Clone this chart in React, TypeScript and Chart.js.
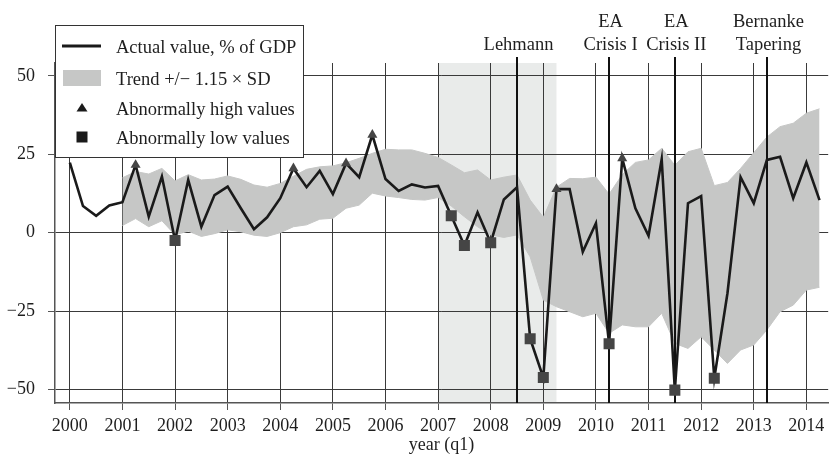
import React, { useEffect, useRef } from 'react';
import { Chart, registerables } from 'chart.js';

Chart.register(...registerables);

const FONT_FAMILY = '"Liberation Serif", "DejaVu Serif", serif';
const TEXT_COLOR = '#1e1e1e';
const GRID_COLOR = '#3a3a3a';
const BAND_COLOR = '#c6c7c6';
const SHADE_COLOR = '#e9ebea';
const MARKER_COLOR = '#454545';

// ---- data ----
const firstQuarter = '2000q1';
const actualValues = [
  22.3, 8.5, 5.4, 8.7,
  9.7, 21.6, 5.1, 17.9,
  -2.5, 16.8, 1.9, 12.0,
  14.7, 7.8, 1.1, 4.9,
  11.0, 20.5, 14.5, 19.7,
  12.3, 22.1, 17.7, 31.2,
  17.1, 13.3, 15.4, 14.4,
  14.9, 5.4, -4.1, 6.5,
  -3.2, 10.6, 14.5, -33.8,
  -46.2, 13.9, 13.9, -6.1,
  3.0, -35.4, 23.7, 7.8,
  -1.0, 23.4, -50.2, 9.4,
  11.7, -46.4, -19.3, 17.7,
  9.4, 23.2, 24.2, 11.0,
  22.4, 10.4,
];

const trendStart = '2001q1';
const trendUpper = [
  17.5, 19.5, 18.7, 20.5,
  16.5, 18.5, 16.8, 17.1,
  18.1, 17.0, 15.2, 14.5,
  15.7, 18.0, 20.2, 21.0,
  21.3, 22.3, 23.7, 25.3,
  26.6, 26.4, 26.4, 25.3,
  24.0, 21.6, 19.1, 20.0,
  16.8, 17.7, 18.4, 10.4,
  4.9, 14.5, 17.3, 17.2,
  17.7, 12.3, 18.5, 22.4,
  23.2, 26.9, 21.5, 25.8,
  26.9, 15.0, 16.0, 20.5,
  25.5, 30.5, 33.8, 34.9,
  38.1, 39.5,
];
const trendLower = [
  2.3, 4.5, 1.9, 3.8,
  -0.7, 0.5, -1.2, -0.3,
  0.9, 0.3, -0.8, -1.2,
  0.0, 1.9, 2.5, 4.3,
  4.6, 7.8, 8.8, 12.6,
  11.7, 11.2, 10.6, 10.4,
  11.2, 8.5, 5.1, 1.9,
  -0.7, -1.5, -0.7, -7.7,
  -21.5, -23.6, -25.2, -26.8,
  -25.7, -32.1, -29.4, -30.0,
  -30.0, -25.7, -35.3, -36.9,
  -33.2, -37.4, -41.7, -37.4,
  -35.8, -31.0, -25.2, -23.1,
  -18.3, -17.4,
];

const highQuarters = ['2001q2', '2004q2', '2005q2', '2005q4', '2009q2', '2010q3'];
const lowQuarters = ['2002q1', '2007q2', '2007q3', '2008q1', '2008q4', '2009q1', '2010q2', '2011q3', '2012q2'];

const yearTicks = [2000, 2001, 2002, 2003, 2004, 2005, 2006, 2007, 2008, 2009, 2010, 2011, 2012, 2013, 2014];
const valueTicks = [-50, -25, 0, 25, 50];

const eventQuarters = ['2008q3', '2010q2', '2011q3', '2013q2'];
const eventLabels = [['Lehmann'], ['EA', 'Crisis I'], ['EA', 'Crisis II'], ['Bernanke', 'Tapering']];
const shadedRange = ['2007q1', '2009q2'];

const legendLabels = ['Actual value, % of GDP', 'Trend +/\u2212 1.15 \u00d7 SD', 'Abnormally high values', 'Abnormally low values'];
const xAxisTitle = 'year (q1)';

// ---- helpers ----
function quarterToX(q: string): number {
  const [y, n] = q.split('q');
  return Number(y) + (Number(n) - 1) / 4;
}
function seriesPoints(start: string, values: number[]) {
  const x0 = quarterToX(start);
  return values.map((v, i) => ({ x: x0 + i / 4, y: v }));
}
function markerPoints(quarters: string[]) {
  const x0 = quarterToX(firstQuarter);
  return quarters.map((q) => {
    const idx = Math.round((quarterToX(q) - x0) * 4);
    return { x: quarterToX(q), y: actualValues[idx] };
  });
}

const font = (size: number) => `${size}px ${FONT_FAMILY}`;

const overlayPlugin = {
  id: 'overlay',
  beforeDraw(chart: any) {
    const { ctx, chartArea, scales } = chart;
    const x1 = scales.x.getPixelForValue(quarterToX(shadedRange[0]));
    const x2 = scales.x.getPixelForValue(quarterToX(shadedRange[1]));
    ctx.save();
    ctx.fillStyle = SHADE_COLOR;
    ctx.fillRect(x1, chartArea.top, x2 - x1, chartArea.bottom - chartArea.top);
    ctx.restore();
  },
  afterDatasetDraw(chart: any, args: any) {
    if (args.index !== 3) return;
    const { ctx, chartArea, scales } = chart;
    ctx.save();
    ctx.strokeStyle = '#111111';
    ctx.lineWidth = 2;
    eventQuarters.forEach((q) => {
      const x = Math.round(scales.x.getPixelForValue(quarterToX(q)));
      ctx.beginPath();
      ctx.moveTo(x, chartArea.top - 6);
      ctx.lineTo(x, chartArea.bottom);
      ctx.stroke();
    });
    ctx.restore();
  },
  afterDraw(chart: any) {
    const { ctx, scales } = chart;
    ctx.save();
    // event labels
    ctx.fillStyle = TEXT_COLOR;
    ctx.font = font(18.5);
    ctx.textAlign = 'center';
    ctx.textBaseline = 'alphabetic';
    eventQuarters.forEach((q, i) => {
      const x = scales.x.getPixelForValue(quarterToX(q)) + 1.5;
      const lines = eventLabels[i];
      lines.forEach((line, j) => {
        const baseline = 50 - (lines.length - 1 - j) * 23;
        ctx.fillText(line, x, baseline);
      });
    });

    // legend box
    const bx = 55.5, by = 25.5, bw = 248, bh = 132;
    ctx.fillStyle = '#ffffff';
    ctx.fillRect(bx, by, bw, bh);
    ctx.strokeStyle = '#333333';
    ctx.lineWidth = 1;
    ctx.strokeRect(bx, by, bw, bh);

    const rows = [46, 78, 108, 137];
    // line sample
    ctx.strokeStyle = '#1a1a1a';
    ctx.lineWidth = 3;
    ctx.beginPath();
    ctx.moveTo(62, rows[0]);
    ctx.lineTo(101, rows[0]);
    ctx.stroke();
    // band sample
    ctx.fillStyle = BAND_COLOR;
    ctx.fillRect(63, rows[1] - 8, 38, 16);
    // triangle
    ctx.fillStyle = '#1a1a1a';
    ctx.beginPath();
    ctx.moveTo(82, rows[2] - 5);
    ctx.lineTo(87.5, rows[2] + 3.5);
    ctx.lineTo(76.5, rows[2] + 3.5);
    ctx.closePath();
    ctx.fill();
    // square
    ctx.fillRect(76.5, rows[3] - 5.5, 11, 11);

    ctx.fillStyle = TEXT_COLOR;
    ctx.font = font(18.5);
    ctx.textAlign = 'left';
    ctx.textBaseline = 'alphabetic';
    legendLabels.forEach((label, i) => {
      ctx.fillText(label, 116, rows[i] + 6.5);
    });
    ctx.restore();
  },
};

export default function App() {
  const canvasRef = useRef<HTMLCanvasElement | null>(null);

  useEffect(() => {
    const canvas = canvasRef.current;
    if (!canvas) return;

    const tickFont = { family: FONT_FAMILY, size: 18 };

    const chart = new Chart(canvas, {
      type: 'line',
      data: {
        datasets: [
          {
            label: legendLabels[3],
            data: markerPoints(lowQuarters),
            showLine: false,
            pointStyle: 'rect',
            pointRadius: 7.8,
            pointBackgroundColor: MARKER_COLOR,
            pointBorderWidth: 0,
            borderWidth: 0,
          } as any,
          {
            label: legendLabels[2],
            data: markerPoints(highQuarters),
            showLine: false,
            pointStyle: 'triangle',
            pointRadius: 5.8,
            pointBackgroundColor: MARKER_COLOR,
            pointBorderWidth: 0,
            borderWidth: 0,
          } as any,
          {
            label: legendLabels[0],
            data: seriesPoints(firstQuarter, actualValues),
            borderColor: '#1a1a1a',
            borderWidth: 2.6,
            pointRadius: 0,
            tension: 0,
            fill: false,
            borderJoinStyle: 'miter',
          } as any,
          {
            label: legendLabels[1],
            data: seriesPoints(trendStart, trendUpper),
            borderColor: BAND_COLOR,
            backgroundColor: BAND_COLOR,
            borderWidth: 1,
            pointRadius: 0,
            tension: 0,
            fill: '+1',
          } as any,
          {
            label: 'trend lower',
            data: seriesPoints(trendStart, trendLower),
            borderColor: BAND_COLOR,
            borderWidth: 1,
            pointRadius: 0,
            tension: 0,
            fill: false,
          } as any,
        ],
      },
      options: {
        responsive: false,
        animation: false,
        events: [],
        layout: { padding: { top: 63, left: 0, right: 0, bottom: 0 } },
        plugins: {
          legend: { display: false },
          tooltip: { enabled: false },
        },
        scales: {
          x: {
            type: 'linear',
            min: 1999.718,
            max: 2014.415,
            afterBuildTicks: (scale: any) => {
              scale.ticks = yearTicks.map((v) => ({ value: v }));
            },
            afterFit: (scale: any) => {
              scale.height = 53;
            },
            ticks: {
              autoSkip: false,
              maxRotation: 0,
              minRotation: 0,
              padding: 5,
              color: TEXT_COLOR,
              font: tickFont,
              callback: (v: any) => String(v),
            },
            grid: {
              color: GRID_COLOR,
              lineWidth: 1,
              tickLength: 7,
              tickColor: '#555555',
            },
            border: { color: '#555555', width: 1.5 },
            title: {
              display: true,
              text: xAxisTitle,
              color: TEXT_COLOR,
              font: { family: FONT_FAMILY, size: 18 },
              padding: { top: 0, bottom: 0 },
            },
          },
          y: {
            type: 'linear',
            min: -54.3,
            max: 54.1,
            afterBuildTicks: (scale: any) => {
              scale.ticks = valueTicks.map((v) => ({ value: v }));
            },
            afterFit: (scale: any) => {
              scale.width = 55;
            },
            ticks: {
              padding: 13,
              color: TEXT_COLOR,
              font: tickFont,
              callback: (v: any) => (Number(v) < 0 ? '\u2212' + Math.abs(Number(v)) : String(v)),
            },
            grid: {
              color: GRID_COLOR,
              lineWidth: 1,
              tickLength: 7,
              tickColor: '#555555',
            },
            border: { color: '#555555', width: 1.5 },
          },
        },
      } as any,
      plugins: [overlayPlugin],
    });

    return () => {
      chart.destroy();
    };
  }, []);

  return (
    <div style={{ position: 'fixed', left: 0, top: 0, width: 836, height: 456, background: '#ffffff' }}>
      <canvas ref={canvasRef} width={836} height={456} style={{ display: 'block' }} />
    </div>
  );
}
